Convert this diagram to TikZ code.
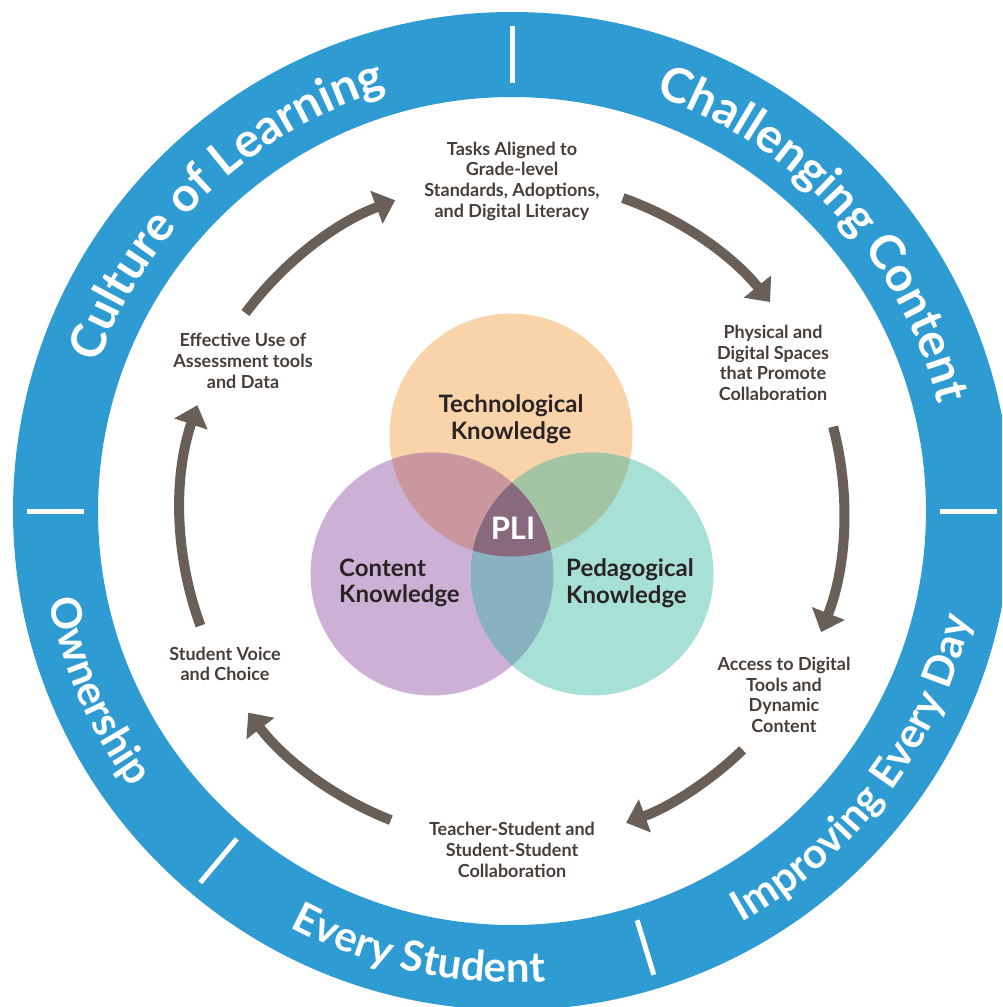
\documentclass[tikz,border=0pt]{standalone}
\usepackage{fontspec}
\setmainfont{Lato}
\usetikzlibrary{arrows.meta,decorations.text,calc}
\definecolor{ringblue}{RGB}{46,155,211}
\definecolor{arrowcol}{RGB}{106,95,87}
\definecolor{labelcol}{RGB}{72,62,57}
\definecolor{venntext}{RGB}{42,35,35}
\definecolor{corange}{RGB}{249,212,170}
\definecolor{cpurple}{RGB}{205,176,214}
\definecolor{cteal}{RGB}{167,224,215}
\definecolor{cop}{RGB}{202,151,158}
\definecolor{cot}{RGB}{163,197,164}
\definecolor{cpt}{RGB}{138,177,192}
\definecolor{cmid}{RGB}{137,105,126}
\newcommand\rgfonttop{\fontsize{48}{48}\selectfont\bfseries\color{white}}
\newcommand\rgfontbot{\fontsize{42}{42}\selectfont\bfseries\color{white}}
\begin{document}
\begin{tikzpicture}[x=1pt,y=1pt,
  arr/.style={draw=arrowcol, line width=10pt, -{Triangle[width=34pt,length=20pt]}},
  lbl/.style={align=center, text=labelcol, font=\fontsize{18}{20.7}\selectfont\bfseries, inner sep=0pt},
  venn/.style={text=venntext, font=\fontsize{24}{26.5}\selectfont\bfseries, inner sep=0pt},
  divider/.style={draw=white, line width=5pt},
  ringtop/.style={decorate, decoration={text along path, text align=center, text={|\rgfonttop|#1}}},
  ringbot/.style={decorate, decoration={text along path, text align=center, text={|\rgfontbot|#1}}}
]
\useasboundingbox (0,0) rectangle (1002,-1007);
\clip (0,0) rectangle (1002,-1007);
\coordinate (C) at (512,-511);
% ring
\fill[ringblue, even odd rule] (C) circle[radius=499] (C) circle[radius=414];
\foreach \a in {0,90,180,230,287}
  \draw[divider] ($(C)+(\a:428)$) -- ($(C)+(\a:485)$);
% ring texts
\path[ringtop={Culture of Learning}] ($(C)+(178:439)$) arc[start angle=178, end angle=89, radius=439];
\path[ringtop={Challenging Content}] ($(C)+(87:439)$) arc[start angle=87, end angle=-2, radius=439];
\path[ringbot={Ownership}] ($(C)+(182:471.5)$) arc[start angle=182, end angle=225, radius=471.5];
\path[ringbot={Every Student}] ($(C)+(232:471.5)$) arc[start angle=232, end angle=284, radius=471.5];
\path[ringbot={Improving Every Day}] ($(C)+(289:471.5)$) arc[start angle=289, end angle=357, radius=471.5];
% venn
\coordinate (O) at (511,-435);
\coordinate (P) at (432,-574);
\coordinate (T) at (592,-574);
\def\vr{121.5}
\fill[corange] (O) circle[radius=\vr];
\fill[cpurple] (P) circle[radius=\vr];
\fill[cteal] (T) circle[radius=\vr];
\begin{scope}
  \clip (O) circle[radius=\vr];
  \fill[cop] (P) circle[radius=\vr];
  \fill[cot] (T) circle[radius=\vr];
\end{scope}
\begin{scope}
  \clip (P) circle[radius=\vr];
  \fill[cpt] (T) circle[radius=\vr];
\end{scope}
\begin{scope}
  \clip (O) circle[radius=\vr];
  \clip (P) circle[radius=\vr];
  \fill[cmid] (T) circle[radius=\vr];
\end{scope}
\node[venn, align=center] (tk) at (511,-419) {Technological\\Knowledge};
\node[venn, align=left, anchor=west] (ck) at (339,-583) {Content\\Knowledge};
\node[venn, align=left, anchor=west] (pk) at (566,-583) {Pedagogical\\Knowledge};
\node[font=\fontsize{31}{31}\selectfont\bfseries, text=white, anchor=base, inner sep=0pt] (pli) at (513,-539) {PLI};
% labels
\node[lbl] (l1) at (512,-181) {Tasks Aligned to\\Grade-level\\Standards, Adoptions,\\and Digital Literacy};
\node[lbl] (l2) at (773,-363) {Physical and\\Digital Spaces\\that Promote\\Collaboration};
\node[lbl] (l3) at (784,-695) {Access to Digital\\Tools and\\Dynamic\\Content};
\node[lbl] (l4) at (512,-850) {Teacher-Student and\\Student-Student\\Collaboration};
\node[lbl] (l5) at (225,-664) {Student Voice\\and Choice};
\node[lbl] (l6) at (243,-361) {Effective Use of\\Assessment tools\\and Data};
% arrows
\coordinate (a1s) at ($(C)+(143.4:332)$);
\coordinate (a2s) at ($(C)+(70.5:332)$);
\coordinate (a3s) at ($(C)+(14.7:332)$);
\coordinate (a4s) at ($(C)+(-46:332)$);
\coordinate (a5s) at ($(C)+(248.6:332)$);
\coordinate (a6s) at ($(C)+(200.2:332)$);
\draw[arr] (a1s) arc[start angle=143.4, end angle=110.6, radius=332];
\draw[arr] (a2s) arc[start angle=70.5, end angle=39, radius=332];
\draw[arr] (a3s) arc[start angle=14.7, end angle=-21.4, radius=332];
\draw[arr] (a4s) arc[start angle=-46, end angle=-69.9, radius=332];
\draw[arr] (a5s) arc[start angle=248.6, end angle=217.4, radius=332];
\draw[arr] (a6s) arc[start angle=200.2, end angle=161.4, radius=332];
\end{tikzpicture}
\end{document}
